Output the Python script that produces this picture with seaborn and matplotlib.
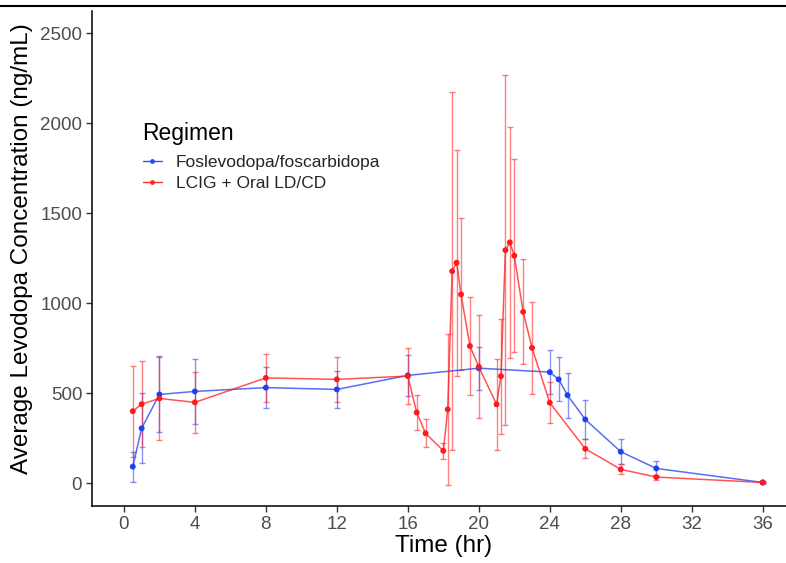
"""
Average levodopa concentration over time, by regimen.
Mean +/- SD error bars, ggplot-classic look.
"""

import matplotlib

matplotlib.use("Agg")
import matplotlib.pyplot as plt
import pandas as pd
import seaborn as sns
from matplotlib.lines import Line2D

# Foslevodopa/foscarbidopa
fos_time = [0.5, 1, 2, 4, 8, 12, 16, 20, 24, 24.5, 25, 26, 28, 30, 36]
fos_mean = [93, 306, 494, 511, 532, 522, 600, 640, 618, 578, 490, 355, 176, 83, 5]
fos_sd = [84, 194, 211, 179, 112, 104, 113, 120, 123, 122, 125, 111, 70, 43, 7]

# LCIG + Oral LD/CD
lcig_time = [0.5, 1, 2, 4, 8, 12, 16, 16.5, 17, 18, 18.25, 18.5, 18.75, 19,
             19.5, 20, 21, 21.25, 21.5, 21.75, 22, 22.5, 23, 24, 26, 28, 30, 36]
lcig_mean = [401, 440, 472, 450, 586, 578, 596, 394, 278, 181, 411, 1179, 1226, 1050,
             763, 648, 439, 596, 1296, 1339, 1265, 953, 753, 448, 192, 78, 35, 5]
lcig_sd = [252, 239, 231, 170, 135, 125, 155, 95, 77, 45, 420, 993, 629, 422,
           270, 286, 252, 320, 972, 640, 535, 292, 256, 113, 52, 27, 14, 5]

regimens = ["Foslevodopa/foscarbidopa", "LCIG + Oral LD/CD"]
colors = {"Foslevodopa/foscarbidopa": "#1f3ff0", "LCIG + Oral LD/CD": "#ff1a1a"}
x_ticks = [0, 4, 8, 12, 16, 20, 24, 28, 32, 36]
y_ticks = [0, 500, 1000, 1500, 2000, 2500]


def build_frame() -> pd.DataFrame:
    """Long-form frame with one row per time point and regimen"""
    fos = pd.DataFrame({"time": fos_time, "conc": fos_mean, "sd": fos_sd})
    fos["regimen"] = regimens[0]
    lcig = pd.DataFrame({"time": lcig_time, "conc": lcig_mean, "sd": lcig_sd})
    lcig["regimen"] = regimens[1]
    return pd.concat([fos, lcig], ignore_index=True)


df = build_frame()

sns.set_style("white")
plt.rcParams["font.family"] = ["Liberation Sans", "DejaVu Sans"]

fig = plt.figure(figsize=(7.86, 5.63), dpi=100)
ax = fig.add_axes([0.117, 0.1015, 0.894, 0.879])

# error bars first so the lines sit on top
for reg in regimens:
    sub = df[df["regimen"] == reg]
    ax.errorbar(sub["time"], sub["conc"], yerr=sub["sd"], fmt="none",
                ecolor=colors[reg], alpha=0.55, elinewidth=1.0, capsize=2.2,
                capthick=1.0, zorder=2)

sns.lineplot(data=df, x="time", y="conc", hue="regimen", palette=colors,
             linewidth=1.1, alpha=0.75, legend=False, ax=ax, zorder=3)
sns.scatterplot(data=df, x="time", y="conc", hue="regimen", palette=colors,
                s=18, linewidth=0, legend=False, ax=ax, zorder=4)

ax.set_xlim(-1.8, 37.8)
ax.set_ylim(-125, 2625)
ax.set_xticks(x_ticks)
ax.set_yticks(y_ticks)
ax.set_xlabel("Time (hr)", fontsize=17.5, color="black", labelpad=2)
ax.set_ylabel("Average Levodopa Concentration (ng/mL)", fontsize=17.5,
              color="black", labelpad=5)
ax.yaxis.label.set_y(0.52)
ax.tick_params(axis="both", which="major", length=4, width=1.0, color="#333333",
               labelsize=13.5, labelcolor="#4d4d4d", pad=3, bottom=True, left=True)

sns.despine(ax=ax)
for side in ["left", "bottom"]:
    ax.spines[side].set_color("black")
    ax.spines[side].set_linewidth(1.1)

# legend title drawn on its own so the gap to the entries matches ggplot
ax.text(0.071, 0.753, "Regimen", transform=ax.transAxes, fontsize=16.5,
        ha="left", va="center", color="black")
handles = [Line2D([0], [0], color=colors[r], marker="o", markersize=3.5,
                  markeredgewidth=0, linewidth=1.0, alpha=0.9) for r in regimens]
ax.legend(handles, regimens, loc="upper left", bbox_to_anchor=(0.0725, 0.71),
          frameon=False, fontsize=12.5, handlelength=1.1, handletextpad=0.8,
          labelspacing=0.35, borderpad=0, borderaxespad=0)

# the cropped rule along the top edge of the screenshot
fig.add_artist(Line2D([0, 1], [1 - 6 / 563, 1 - 6 / 563], color="black", lw=1.5))

fig.savefig("out.png", dpi=100)
